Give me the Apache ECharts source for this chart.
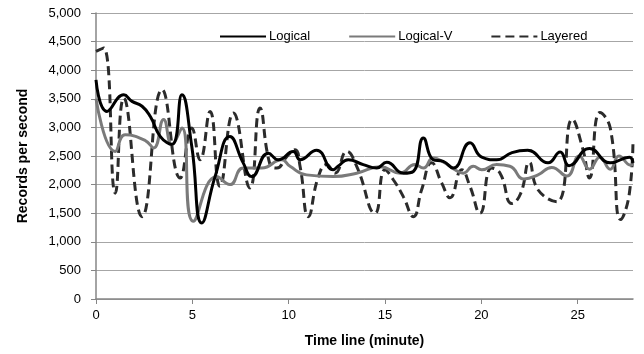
<!DOCTYPE html>
<html>
<head>
<meta charset="utf-8">
<script src="https://cdn.jsdelivr.net/npm/echarts@6/dist/echarts.min.js"></script>
<style>
  html, body { margin: 0; padding: 0; background: #fff; }
  #chart { width: 644px; height: 354px; }
</style>
</head>
<body>
<div id="chart"></div>
<script>
// values (minutes, records per second)
const logicalTime = [0, 0.57, 1.44, 1.87, 2.39, 2.82, 3.34, 3.94, 4.46, 4.97, 5.49, 6.18, 6.95, 7.64, 8.08, 8.94, 9.46, 10.24, 10.59, 11.45, 12.31, 12.56, 13.09, 13.87, 14.57, 15.09, 15.95, 16.47, 16.99, 17.5, 18.02, 18.54, 19.41, 20.02, 20.79, 21.59, 22.4, 23.46, 24.09, 24.55, 25.61, 26.69, 27.68, 27.87]
const logical = [3830, 3280, 3570, 3455, 3370, 3190, 2840, 2700, 3570, 2670, 1330, 2140, 2840, 2380, 2140, 2550, 2435, 2580, 2435, 2600, 2260, 2320, 2435, 2350, 2290, 2390, 2200, 2230, 2815, 2435, 2405, 2290, 2730, 2480, 2435, 2560, 2600, 2380, 2570, 2330, 2630, 2380, 2480, 2380]

const logicalVTime = [0, 1.0, 1.52, 2.56, 2.99, 3.51, 3.94, 4.46, 5.05, 6.26, 6.95, 7.64, 8.6, 9.64, 10.07, 10.93, 12.31, 13.53, 14.74, 15.78, 16.55, 16.99, 17.5, 18.11, 18.63, 19.06, 19.58, 20.02, 20.79, 21.48, 22.21, 22.94, 23.65, 24.44, 25.08, 25.61, 26.15, 26.69, 27.14, 27.76, 27.87]
const logicalV = [3500, 2580, 2870, 2770, 2640, 3140, 2700, 2990, 1360, 2140, 2000, 2290, 2290, 2435, 2320, 2170, 2140, 2200, 2310, 2200, 2350, 2290, 2465, 2380, 2260, 2200, 2320, 2260, 2350, 2320, 2100, 2170, 2300, 2150, 2500, 2270, 2480, 2270, 2500, 2340, 2360]

const layeredTime = [0, 0.4, 1.0, 1.44, 2.39, 3.43, 4.37, 4.97, 5.4, 5.92, 6.43, 7.13, 7.99, 8.51, 9.03, 9.38, 9.9, 10.33, 10.59, 11.02, 11.54, 11.97, 12.4, 13.01, 13.53, 14.48, 15.0, 15.43, 15.95, 16.47, 16.9, 17.42, 17.94, 18.37, 18.98, 19.41, 19.93, 20.53, 20.97, 21.59, 22.04, 22.49, 22.94, 23.92, 24.72, 25.26, 25.61, 26.15, 26.69, 27.23, 27.68, 27.87]
const layered = [4330, 4390, 1850, 3510, 1440, 3660, 2115, 2990, 2435, 3280, 1970, 3250, 1940, 3340, 2350, 2290, 2490, 2610, 2320, 1440, 2140, 2350, 2200, 2580, 2320, 1500, 2260, 2085, 1790, 1440, 1910, 2380, 2030, 1770, 2260, 1970, 1500, 2290, 2200, 1670, 1845, 2390, 1910, 1700, 3140, 2630, 2115, 3260, 2990, 1390, 1845, 2785]

const xMax = 27.87
const yTicks = [0, 500, 1000, 1500, 2000, 2500, 3000, 3500, 4000, 4500, 5000]

const pairs = (t, v) => t.map((x, i) => [x, v[i]])
const fontFamily = 'Liberation Sans, Arial, sans-serif'

const chart = echarts.init(document.getElementById('chart'))

chart.setOption({
  animation: false,
  backgroundColor: '#fff',
  textStyle: { fontFamily },
  grid: { left: 96, right: 11, top: 13, bottom: 55 },
  legend: {
    left: 214,
    top: 25,
    itemWidth: 46,
    itemHeight: 10,
    itemGap: 38,
    itemStyle: { opacity: 0 },
    textStyle: { fontSize: 13, color: '#000', fontFamily, padding: [0, 0, 0, -2] },
    data: ['Logical', 'Logical-V', 'Layered']
  },
  xAxis: {
    type: 'value',
    min: 0,
    max: xMax,
    interval: 5,
    name: 'Time line (minute)',
    nameLocation: 'middle',
    nameGap: 35,
    nameTextStyle: { fontSize: 14, fontWeight: 'bold', color: '#000', fontFamily },
    axisLine: { lineStyle: { color: '#868686', width: 1.5 } },
    axisTick: { show: true, length: 5, lineStyle: { color: '#868686' } },
    axisLabel: {
      margin: 10,
      fontSize: 13,
      color: '#000',
      showMaxLabel: false,
      formatter: v => (v % 5 === 0 ? String(v) : '')
    },
    splitLine: { show: false }
  },
  yAxis: {
    type: 'value',
    min: 0,
    max: yTicks[yTicks.length - 1],
    interval: 500,
    name: 'Records per second',
    nameLocation: 'middle',
    nameGap: 66,
    nameTextStyle: { fontSize: 14, fontWeight: 'bold', color: '#000', fontFamily },
    axisLine: { show: true, lineStyle: { color: '#868686', width: 1.5 } },
    axisTick: { show: true, length: 5, lineStyle: { color: '#868686' } },
    axisLabel: {
      margin: 15,
      fontSize: 13,
      color: '#000',
      formatter: v => v.toLocaleString('en-US')
    },
    splitLine: { lineStyle: { color: '#a6a6a6', width: 1 } }
  },
  series: [
    {
      name: 'Logical',
      type: 'line',
      smooth: 0.5,
      symbol: 'none',
      z: 4,
      lineStyle: { color: '#000', width: 3 },
      itemStyle: { color: '#000' },
      data: pairs(logicalTime, logical)
    },
    {
      name: 'Logical-V',
      type: 'line',
      smooth: 0.5,
      symbol: 'none',
      z: 3,
      lineStyle: { color: '#7a7a7a', width: 3 },
      itemStyle: { color: '#7a7a7a' },
      data: pairs(logicalVTime, logicalV)
    },
    {
      name: 'Layered',
      type: 'line',
      smooth: 0.5,
      symbol: 'none',
      z: 2,
      lineStyle: { color: '#2b2b2b', width: 3, type: [9, 5] },
      itemStyle: { color: '#2b2b2b' },
      data: pairs(layeredTime, layered)
    }
  ]
})
</script>
</body>
</html>
